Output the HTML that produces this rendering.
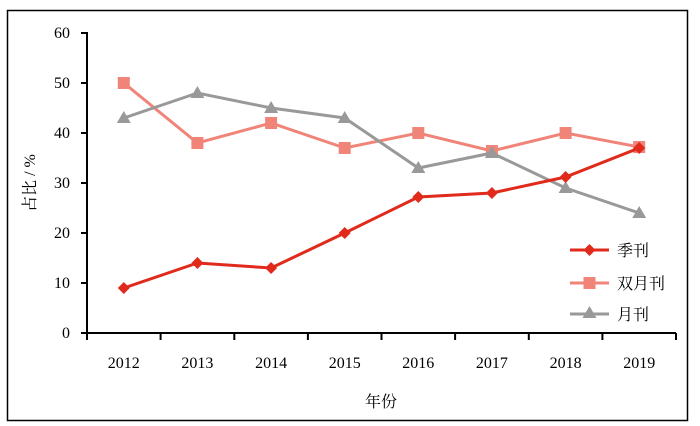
<!DOCTYPE html>
<html><head><meta charset="utf-8"><style>body{margin:0;background:#fff}svg{display:block}text{font-family:"Liberation Serif","Times New Roman","Noto Serif CJK SC",serif;font-size:16px;fill:#000}</style></head><body>
<svg width="700" height="426" viewBox="0 0 700 426">
<rect x="7.5" y="10.5" width="680" height="410" fill="#fff" stroke="#000" stroke-width="1.5"/>
<g stroke="#000" stroke-width="2" fill="none">
<line x1="87" y1="32" x2="87" y2="333"/>
<line x1="86" y1="333" x2="676" y2="333"/>
<path d="M81 33H87M81 83H87M81 133H87M81 183H87M81 233H87M81 283H87M81 333H87"/>
<path d="M160.6 333V340M234.3 333V340M307.9 333V340M381.5 333V340M455.1 333V340M528.8 333V340M602.4 333V340M676 333V340M87 333V340"/>
</g>
<g text-anchor="end">
<text x="70" y="38">60</text><text x="70" y="88">50</text><text x="70" y="138">40</text><text x="70" y="188">30</text><text x="70" y="238">20</text><text x="70" y="288">10</text><text x="70" y="338">0</text></g>
<g text-anchor="middle">
<text x="123.8" y="368">2012</text><text x="197.4" y="368">2013</text><text x="271.1" y="368">2014</text><text x="344.7" y="368">2015</text><text x="418.3" y="368">2016</text><text x="491.9" y="368">2017</text><text x="565.6" y="368">2018</text><text x="639.2" y="368">2019</text>
<text x="381" y="407">年份</text>
<text transform="translate(35,183) rotate(-90)">占比 / %</text></g>
<polyline fill="none" stroke="#f08478" stroke-width="3" points="123.8,83 197.4,143 271.1,123 344.7,148 418.3,133 491.9,151 565.6,133 639.2,147"/>
<g fill="#f08478"><rect x="117.8" y="77" width="12" height="12"/><rect x="191.4" y="137" width="12" height="12"/><rect x="265.1" y="117" width="12" height="12"/><rect x="338.7" y="142" width="12" height="12"/><rect x="412.3" y="127" width="12" height="12"/><rect x="485.9" y="145" width="12" height="12"/><rect x="559.6" y="127" width="12" height="12"/><rect x="633.2" y="141" width="12" height="12"/></g>
<polyline fill="none" stroke="#999" stroke-width="3" points="123.8,118 197.4,93 271.1,108 344.7,118 418.3,168 491.9,153 565.6,188 639.2,213"/>
<g fill="#999"><path d="M123.8 111l7 12h-14z"/><path d="M197.4 86l7 12h-14z"/><path d="M271.1 101l7 12h-14z"/><path d="M344.7 111l7 12h-14z"/><path d="M418.3 161l7 12h-14z"/><path d="M491.9 146l7 12h-14z"/><path d="M565.6 181l7 12h-14z"/><path d="M639.2 206l7 12h-14z"/></g>
<polyline fill="none" stroke="#e02a1c" stroke-width="3" points="123.8,288 197.4,263 271.1,268 344.7,233 418.3,197 491.9,193 565.6,177 639.2,148"/>
<g fill="#e02a1c"><path d="M123.8 282l6 6-6 6-6-6z"/><path d="M197.4 257l6 6-6 6-6-6z"/><path d="M271.1 262l6 6-6 6-6-6z"/><path d="M344.7 227l6 6-6 6-6-6z"/><path d="M418.3 191l6 6-6 6-6-6z"/><path d="M491.9 187l6 6-6 6-6-6z"/><path d="M565.6 171l6 6-6 6-6-6z"/><path d="M639.2 142l6 6-6 6-6-6z"/></g>
<line x1="570" y1="250" x2="609" y2="250" stroke="#e02a1c" stroke-width="3"/><path d="M589.5 244l6 6-6 6-6-6z" fill="#e02a1c"/>
<line x1="570" y1="283" x2="609" y2="283" stroke="#f08478" stroke-width="3"/><rect x="583.5" y="277" width="12" height="12" fill="#f08478"/>
<line x1="570" y1="314" x2="609" y2="314" stroke="#999" stroke-width="3"/><path d="M589.5 306l7 12h-14z" fill="#999"/>
<text x="617" y="256">季刊</text><text x="617" y="289">双月刊</text><text x="617" y="320">月刊</text>
</svg></body></html>
